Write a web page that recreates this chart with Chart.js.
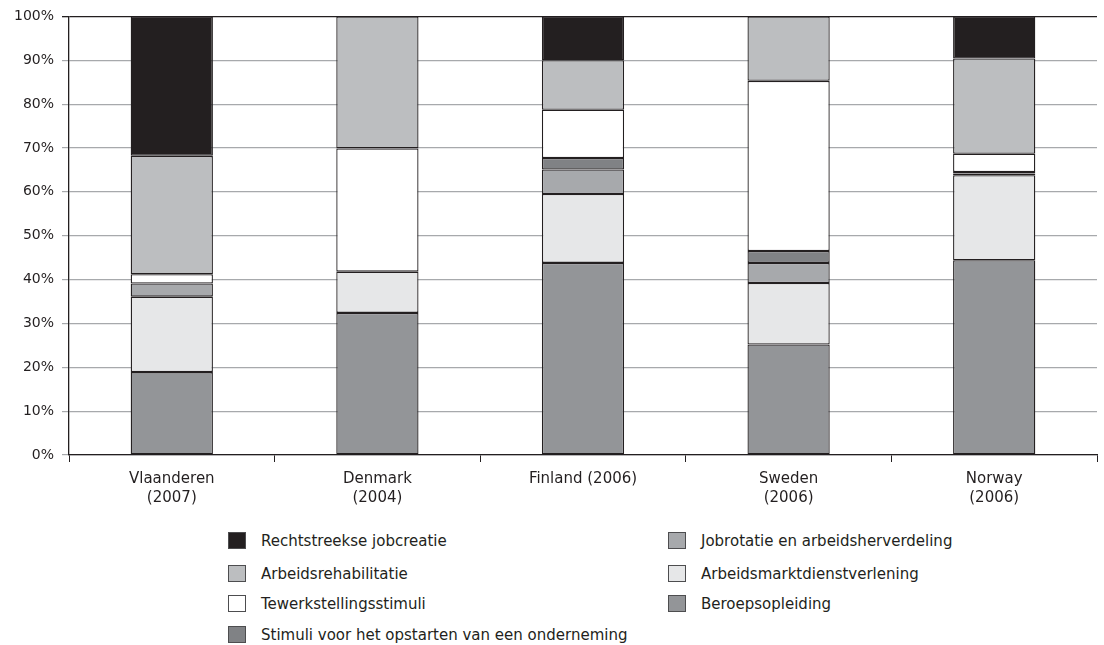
<!DOCTYPE html>
<html>
<head>
<meta charset="utf-8">
<script src="https://cdn.jsdelivr.net/npm/chart.js@4/dist/chart.umd.min.js"></script>
<style>
  body { margin: 0; background: #fff; width: 1104px; height: 645px; position: relative; overflow: hidden; }
  #wrap { position: absolute; left: 0; top: 0; width: 1104px; height: 512px; }
  #legend { position: absolute; left: 0; top: 0; width: 1104px; font-family: "DejaVu Sans", sans-serif; font-size: 15px; color: #231f20; }
  .item { position: absolute; height: 20px; line-height: 20px; white-space: nowrap; }
  .box { position: absolute; left: 0; top: 1px; width: 18px; height: 17px; box-sizing: border-box; border: 1px solid #4d4d4f; }
  .lbl { position: absolute; left: 33px; top: 0; }
</style>
</head>
<body>
<div id="wrap"><canvas id="myCanvas"></canvas></div>
<div id="legend"></div>
<script>
const countries = [["Vlaanderen", "(2007)"], ["Denmark", "(2004)"], "Finland (2006)", ["Sweden", "(2006)"], ["Norway", "(2006)"]];
const yTicks = [0, 10, 20, 30, 40, 50, 60, 70, 80, 90, 100];

// stacked bottom -> top, percentages
const beroepsopleiding     = [18.9, 32.4, 43.8, 25.2, 44.4];
const arbeidsmarktdienst   = [17.2,  9.4, 15.7, 14.0, 19.4];
const jobrotatie           = [ 3.0,  0,    5.6,  4.6,  0.4];
const stimuliOpstarten     = [ 0,    0,    2.6,  2.7,  0.3];
const tewerkstelling       = [ 2.1, 28.1, 11.0, 38.8,  4.2];
const arbeidsrehabilitatie = [27.0, 30.1, 11.3, 14.7, 21.7];
const rechtstreekse        = [31.8,  0,   10.0,  0,    9.6];

const series = [
  { label: "Beroepsopleiding", data: beroepsopleiding, color: "#939598" },
  { label: "Arbeidsmarktdienstverlening", data: arbeidsmarktdienst, color: "#e6e7e8" },
  { label: "Jobrotatie en arbeidsherverdeling", data: jobrotatie, color: "#a7a9ac" },
  { label: "Stimuli voor het opstarten van een onderneming", data: stimuliOpstarten, color: "#808285" },
  { label: "Tewerkstellingsstimuli", data: tewerkstelling, color: "#ffffff" },
  { label: "Arbeidsrehabilitatie", data: arbeidsrehabilitatie, color: "#bcbec0" },
  { label: "Rechtstreekse jobcreatie", data: rechtstreekse, color: "#231f20" }
];

// legend order as in the picture: left column then right column
const legendLeft = ["Rechtstreekse jobcreatie", "Arbeidsrehabilitatie", "Tewerkstellingsstimuli", "Stimuli voor het opstarten van een onderneming"];
const legendRight = ["Jobrotatie en arbeidsherverdeling", "Arbeidsmarktdienstverlening", "Beroepsopleiding"];

Chart.defaults.color = "#231f20";

new Chart(document.getElementById("myCanvas").getContext("2d"), {
  type: "bar",
  data: {
    labels: countries,
    datasets: series.map(s => ({
      label: s.label,
      data: s.data,
      backgroundColor: s.color,
      borderColor: "#231f20",
      borderWidth: 1.3,
      borderSkipped: false,
      categoryPercentage: 1,
      barPercentage: 0.4
    }))
  },
  options: {
    responsive: true,
    maintainAspectRatio: false,
    animation: false,
    layout: { padding: { top: 16, right: 7, left: 0, bottom: 0 } },
    plugins: { legend: { display: false }, tooltip: { enabled: false } },
    scales: {
      x: {
        stacked: true,
        border: { color: "#231f20", width: 1.3 },
        grid: { offset: true, drawOnChartArea: false, tickLength: 7, color: "#231f20" },
        ticks: { font: { family: "DejaVu Sans", size: 15, lineHeight: 1.3 }, padding: 7, maxRotation: 0 },
        afterFit: s => { s.height = 57; }
      },
      y: {
        stacked: true,
        min: 0,
        max: 100,
        afterBuildTicks: s => { s.ticks = yTicks.map(v => ({ value: v })); },
        border: { color: "#231f20", width: 1.3 },
        grid: {
          tickLength: 7,
          color: c => c.tick && c.tick.value === 100 ? "#231f20" : "#a7a9ac",
          lineWidth: c => c.tick && c.tick.value === 100 ? 1.3 : 1.2
        },
        ticks: { font: { family: "DejaVu Sans", size: 14 }, padding: 8, callback: v => v + "%" },
        afterFit: s => { s.width = 69; }
      }
    }
  }
});

// html legend
const legend = document.getElementById("legend");
function addItem(name, x, y) {
  const s = series.find(d => d.label === name);
  const el = document.createElement("div");
  el.className = "item";
  el.style.left = x + "px";
  el.style.top = y + "px";
  el.innerHTML = '<span class="box" style="background:' + s.color + '"></span><span class="lbl"></span>';
  el.querySelector(".lbl").textContent = name;
  legend.appendChild(el);
}
const rowTops = [531, 564, 594, 625];
legendLeft.forEach((n, i) => addItem(n, 228, rowTops[i]));
legendRight.forEach((n, i) => addItem(n, 668, rowTops[i]));
</script>
</body>
</html>
